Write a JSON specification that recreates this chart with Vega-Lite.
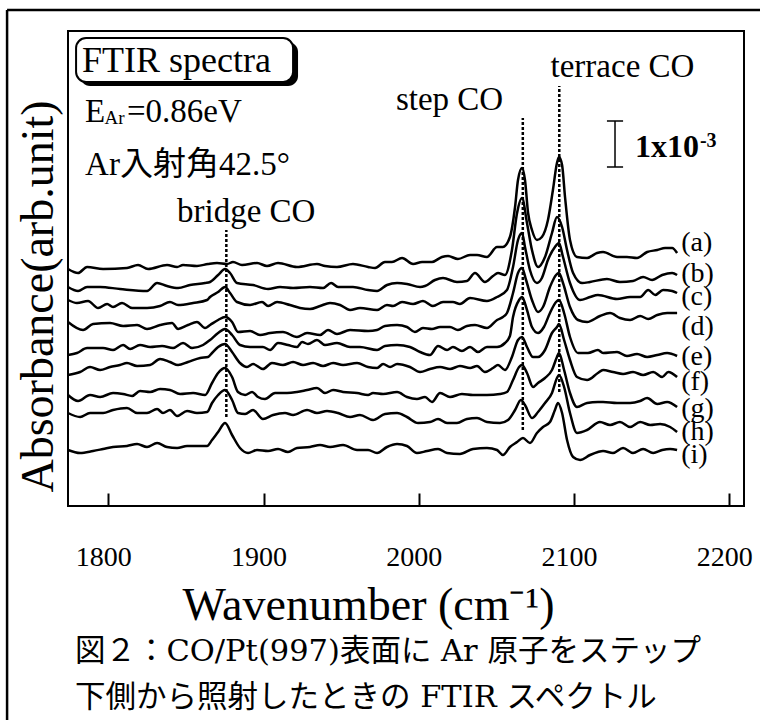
{
"$schema":"https://vega.github.io/schema/vega-lite/v6.json",
"width":676,"height":475,
"autosize":{"type":"none"},
"padding":{"left":68,"top":31,"right":16,"bottom":214},
"background":"white",
"config":{"view":{"stroke":"black","strokeWidth":2},"font":"Liberation Serif"},
"datasets":{
"spectra":[
{"spectrum":"a","wn":1774.0,"abs":237},{"spectrum":"a","wn":1780.5,"abs":233},{"spectrum":"a","wn":1786.3,"abs":239},{"spectrum":"a","wn":1796.6,"abs":237},{"spectrum":"a","wn":1812.0,"abs":238},{"spectrum":"a","wn":1819.1,"abs":241},{"spectrum":"a","wn":1825.6,"abs":237},{"spectrum":"a","wn":1837.8,"abs":241},{"spectrum":"a","wn":1844.3,"abs":239},{"spectrum":"a","wn":1848.1,"abs":241},{"spectrum":"a","wn":1857.1,"abs":240},{"spectrum":"a","wn":1864.2,"abs":242},{"spectrum":"a","wn":1870.0,"abs":243},{"spectrum":"a","wn":1876.5,"abs":242},{"spectrum":"a","wn":1880.3,"abs":244},{"spectrum":"a","wn":1886.1,"abs":241},{"spectrum":"a","wn":1895.8,"abs":243},{"spectrum":"a","wn":1902.2,"abs":240},{"spectrum":"a","wn":1909.3,"abs":243},{"spectrum":"a","wn":1921.5,"abs":239},{"spectrum":"a","wn":1934.4,"abs":242},{"spectrum":"a","wn":1939.6,"abs":240},{"spectrum":"a","wn":1947.3,"abs":239},{"spectrum":"a","wn":1957.6,"abs":242},{"spectrum":"a","wn":1967.3,"abs":239},{"spectrum":"a","wn":1971.8,"abs":238},{"spectrum":"a","wn":1978.2,"abs":244},{"spectrum":"a","wn":1982.7,"abs":244},{"spectrum":"a","wn":1989.2,"abs":248},{"spectrum":"a","wn":1996.3,"abs":242},{"spectrum":"a","wn":2002.1,"abs":244},{"spectrum":"a","wn":2008.5,"abs":244},{"spectrum":"a","wn":2014.9,"abs":249},{"spectrum":"a","wn":2018.8,"abs":250},{"spectrum":"a","wn":2025.2,"abs":247},{"spectrum":"a","wn":2033.0,"abs":251},{"spectrum":"a","wn":2037.5,"abs":251},{"spectrum":"a","wn":2043.9,"abs":249},{"spectrum":"a","wn":2050.4,"abs":259},{"spectrum":"a","wn":2054.2,"abs":259},{"spectrum":"a","wn":2058.7,"abs":269},{"spectrum":"a","wn":2062.0,"abs":299},{"spectrum":"a","wn":2063.9,"abs":326},{"spectrum":"a","wn":2066.5,"abs":338},{"spectrum":"a","wn":2068.4,"abs":326},{"spectrum":"a","wn":2070.4,"abs":293},{"spectrum":"a","wn":2072.9,"abs":276},{"spectrum":"a","wn":2076.1,"abs":266},{"spectrum":"a","wn":2079.3,"abs":269},{"spectrum":"a","wn":2083.2,"abs":286},{"spectrum":"a","wn":2086.4,"abs":316},{"spectrum":"a","wn":2089.0,"abs":343},{"spectrum":"a","wn":2090.3,"abs":349},{"spectrum":"a","wn":2092.3,"abs":341},{"spectrum":"a","wn":2094.2,"abs":309},{"spectrum":"a","wn":2097.4,"abs":266},{"spectrum":"a","wn":2101.9,"abs":249},{"spectrum":"a","wn":2108.4,"abs":248},{"spectrum":"a","wn":2114.8,"abs":253},{"spectrum":"a","wn":2118.7,"abs":254},{"spectrum":"a","wn":2127.7,"abs":249},{"spectrum":"a","wn":2134.1,"abs":249},{"spectrum":"a","wn":2140.6,"abs":248},{"spectrum":"a","wn":2147.1,"abs":254},{"spectrum":"a","wn":2153.6,"abs":256},{"spectrum":"a","wn":2158.7,"abs":258},{"spectrum":"a","wn":2163.2,"abs":258},{"spectrum":"a","wn":2166.4,"abs":253},
{"spectrum":"b","wn":1774.0,"abs":219},{"spectrum":"b","wn":1780.5,"abs":215},{"spectrum":"b","wn":1786.3,"abs":219},{"spectrum":"b","wn":1794.7,"abs":219},{"spectrum":"b","wn":1807.5,"abs":217},{"spectrum":"b","wn":1824.9,"abs":215},{"spectrum":"b","wn":1831.4,"abs":223},{"spectrum":"b","wn":1837.8,"abs":220},{"spectrum":"b","wn":1844.9,"abs":218},{"spectrum":"b","wn":1852.6,"abs":221},{"spectrum":"b","wn":1862.3,"abs":223},{"spectrum":"b","wn":1865.5,"abs":224},{"spectrum":"b","wn":1870.7,"abs":231},{"spectrum":"b","wn":1875.2,"abs":237},{"spectrum":"b","wn":1878.4,"abs":233},{"spectrum":"b","wn":1882.9,"abs":223},{"spectrum":"b","wn":1893.2,"abs":221},{"spectrum":"b","wn":1902.9,"abs":217},{"spectrum":"b","wn":1910.6,"abs":219},{"spectrum":"b","wn":1919.0,"abs":218},{"spectrum":"b","wn":1929.9,"abs":219},{"spectrum":"b","wn":1938.3,"abs":218},{"spectrum":"b","wn":1943.5,"abs":223},{"spectrum":"b","wn":1948.0,"abs":219},{"spectrum":"b","wn":1957.6,"abs":219},{"spectrum":"b","wn":1967.3,"abs":216},{"spectrum":"b","wn":1973.1,"abs":215},{"spectrum":"b","wn":1979.5,"abs":221},{"spectrum":"b","wn":1986.0,"abs":223},{"spectrum":"b","wn":1992.4,"abs":222},{"spectrum":"b","wn":2000.8,"abs":219},{"spectrum":"b","wn":2004.0,"abs":220},{"spectrum":"b","wn":2010.4,"abs":226},{"spectrum":"b","wn":2015.6,"abs":228},{"spectrum":"b","wn":2024.6,"abs":224},{"spectrum":"b","wn":2031.0,"abs":225},{"spectrum":"b","wn":2036.2,"abs":233},{"spectrum":"b","wn":2042.6,"abs":224},{"spectrum":"b","wn":2047.8,"abs":230},{"spectrum":"b","wn":2051.0,"abs":233},{"spectrum":"b","wn":2055.5,"abs":231},{"spectrum":"b","wn":2060.0,"abs":256},{"spectrum":"b","wn":2063.3,"abs":293},{"spectrum":"b","wn":2066.5,"abs":308},{"spectrum":"b","wn":2069.7,"abs":283},{"spectrum":"b","wn":2072.9,"abs":256},{"spectrum":"b","wn":2076.8,"abs":239},{"spectrum":"b","wn":2081.3,"abs":249},{"spectrum":"b","wn":2085.8,"abs":273},{"spectrum":"b","wn":2089.0,"abs":289},{"spectrum":"b","wn":2092.3,"abs":279},{"spectrum":"b","wn":2095.5,"abs":256},{"spectrum":"b","wn":2099.4,"abs":233},{"spectrum":"b","wn":2105.2,"abs":223},{"spectrum":"b","wn":2110.3,"abs":224},{"spectrum":"b","wn":2121.2,"abs":227},{"spectrum":"b","wn":2129.6,"abs":224},{"spectrum":"b","wn":2138.0,"abs":225},{"spectrum":"b","wn":2144.5,"abs":229},{"spectrum":"b","wn":2150.3,"abs":226},{"spectrum":"b","wn":2156.8,"abs":231},{"spectrum":"b","wn":2163.2,"abs":233},{"spectrum":"b","wn":2166.4,"abs":231},
{"spectrum":"c","wn":1774.0,"abs":206},{"spectrum":"c","wn":1779.8,"abs":203},{"spectrum":"c","wn":1786.9,"abs":205},{"spectrum":"c","wn":1793.4,"abs":198},{"spectrum":"c","wn":1799.2,"abs":202},{"spectrum":"c","wn":1803.0,"abs":199},{"spectrum":"c","wn":1808.8,"abs":203},{"spectrum":"c","wn":1815.3,"abs":198},{"spectrum":"c","wn":1824.9,"abs":198},{"spectrum":"c","wn":1833.3,"abs":200},{"spectrum":"c","wn":1839.7,"abs":204},{"spectrum":"c","wn":1844.9,"abs":201},{"spectrum":"c","wn":1854.6,"abs":203},{"spectrum":"c","wn":1863.6,"abs":206},{"spectrum":"c","wn":1865.5,"abs":209},{"spectrum":"c","wn":1870.7,"abs":214},{"spectrum":"c","wn":1875.2,"abs":219},{"spectrum":"c","wn":1878.4,"abs":213},{"spectrum":"c","wn":1882.9,"abs":204},{"spectrum":"c","wn":1891.3,"abs":201},{"spectrum":"c","wn":1899.0,"abs":204},{"spectrum":"c","wn":1902.9,"abs":200},{"spectrum":"c","wn":1908.7,"abs":204},{"spectrum":"c","wn":1917.0,"abs":201},{"spectrum":"c","wn":1923.5,"abs":198},{"spectrum":"c","wn":1929.9,"abs":197},{"spectrum":"c","wn":1936.4,"abs":200},{"spectrum":"c","wn":1942.8,"abs":203},{"spectrum":"c","wn":1949.3,"abs":201},{"spectrum":"c","wn":1955.7,"abs":196},{"spectrum":"c","wn":1962.1,"abs":198},{"spectrum":"c","wn":1973.1,"abs":196},{"spectrum":"c","wn":1979.5,"abs":201},{"spectrum":"c","wn":1983.4,"abs":200},{"spectrum":"c","wn":1989.2,"abs":204},{"spectrum":"c","wn":1996.3,"abs":202},{"spectrum":"c","wn":2002.7,"abs":205},{"spectrum":"c","wn":2009.1,"abs":200},{"spectrum":"c","wn":2015.6,"abs":204},{"spectrum":"c","wn":2022.0,"abs":204},{"spectrum":"c","wn":2026.5,"abs":202},{"spectrum":"c","wn":2033.0,"abs":208},{"spectrum":"c","wn":2043.9,"abs":205},{"spectrum":"c","wn":2050.4,"abs":209},{"spectrum":"c","wn":2056.8,"abs":216},{"spectrum":"c","wn":2060.7,"abs":239},{"spectrum":"c","wn":2063.9,"abs":266},{"spectrum":"c","wn":2066.5,"abs":273},{"spectrum":"c","wn":2068.4,"abs":259},{"spectrum":"c","wn":2071.6,"abs":236},{"spectrum":"c","wn":2076.1,"abs":223},{"spectrum":"c","wn":2079.3,"abs":228},{"spectrum":"c","wn":2083.2,"abs":246},{"spectrum":"c","wn":2087.7,"abs":259},{"spectrum":"c","wn":2090.3,"abs":263},{"spectrum":"c","wn":2092.9,"abs":249},{"spectrum":"c","wn":2097.4,"abs":223},{"spectrum":"c","wn":2103.9,"abs":206},{"spectrum":"c","wn":2110.3,"abs":209},{"spectrum":"c","wn":2115.4,"abs":211},{"spectrum":"c","wn":2127.7,"abs":207},{"spectrum":"c","wn":2136.1,"abs":209},{"spectrum":"c","wn":2142.6,"abs":209},{"spectrum":"c","wn":2147.8,"abs":216},{"spectrum":"c","wn":2152.3,"abs":211},{"spectrum":"c","wn":2157.4,"abs":216},{"spectrum":"c","wn":2163.2,"abs":215},{"spectrum":"c","wn":2166.4,"abs":213},
{"spectrum":"d","wn":1774.0,"abs":184},{"spectrum":"d","wn":1783.7,"abs":176},{"spectrum":"d","wn":1790.1,"abs":182},{"spectrum":"d","wn":1801.1,"abs":183},{"spectrum":"d","wn":1809.5,"abs":180},{"spectrum":"d","wn":1818.5,"abs":181},{"spectrum":"d","wn":1824.9,"abs":177},{"spectrum":"d","wn":1833.3,"abs":181},{"spectrum":"d","wn":1841.0,"abs":183},{"spectrum":"d","wn":1844.9,"abs":177},{"spectrum":"d","wn":1851.3,"abs":181},{"spectrum":"d","wn":1857.1,"abs":184},{"spectrum":"d","wn":1862.3,"abs":178},{"spectrum":"d","wn":1865.5,"abs":181},{"spectrum":"d","wn":1870.7,"abs":186},{"spectrum":"d","wn":1875.2,"abs":189},{"spectrum":"d","wn":1879.7,"abs":184},{"spectrum":"d","wn":1883.5,"abs":174},{"spectrum":"d","wn":1891.3,"abs":175},{"spectrum":"d","wn":1897.7,"abs":171},{"spectrum":"d","wn":1904.2,"abs":173},{"spectrum":"d","wn":1912.5,"abs":174},{"spectrum":"d","wn":1921.5,"abs":169},{"spectrum":"d","wn":1928.0,"abs":173},{"spectrum":"d","wn":1936.4,"abs":171},{"spectrum":"d","wn":1941.5,"abs":176},{"spectrum":"d","wn":1947.3,"abs":172},{"spectrum":"d","wn":1955.7,"abs":176},{"spectrum":"d","wn":1967.3,"abs":175},{"spectrum":"d","wn":1973.1,"abs":176},{"spectrum":"d","wn":1978.2,"abs":180},{"spectrum":"d","wn":1986.0,"abs":181},{"spectrum":"d","wn":1992.4,"abs":179},{"spectrum":"d","wn":1997.5,"abs":174},{"spectrum":"d","wn":2002.7,"abs":178},{"spectrum":"d","wn":2008.5,"abs":177},{"spectrum":"d","wn":2013.7,"abs":179},{"spectrum":"d","wn":2020.1,"abs":179},{"spectrum":"d","wn":2025.2,"abs":176},{"spectrum":"d","wn":2031.0,"abs":180},{"spectrum":"d","wn":2036.2,"abs":181},{"spectrum":"d","wn":2043.9,"abs":178},{"spectrum":"d","wn":2050.4,"abs":186},{"spectrum":"d","wn":2054.2,"abs":189},{"spectrum":"d","wn":2056.8,"abs":193},{"spectrum":"d","wn":2060.7,"abs":213},{"spectrum":"d","wn":2063.9,"abs":233},{"spectrum":"d","wn":2066.5,"abs":238},{"spectrum":"d","wn":2069.1,"abs":226},{"spectrum":"d","wn":2072.9,"abs":206},{"spectrum":"d","wn":2076.8,"abs":194},{"spectrum":"d","wn":2080.0,"abs":199},{"spectrum":"d","wn":2084.5,"abs":219},{"spectrum":"d","wn":2088.4,"abs":231},{"spectrum":"d","wn":2090.3,"abs":233},{"spectrum":"d","wn":2092.9,"abs":223},{"spectrum":"d","wn":2097.4,"abs":199},{"spectrum":"d","wn":2102.6,"abs":186},{"spectrum":"d","wn":2108.4,"abs":184},{"spectrum":"d","wn":2116.7,"abs":190},{"spectrum":"d","wn":2123.2,"abs":193},{"spectrum":"d","wn":2129.6,"abs":188},{"spectrum":"d","wn":2136.1,"abs":186},{"spectrum":"d","wn":2142.6,"abs":190},{"spectrum":"d","wn":2147.8,"abs":187},{"spectrum":"d","wn":2153.6,"abs":191},{"spectrum":"d","wn":2160.0,"abs":193},{"spectrum":"d","wn":2166.4,"abs":193},
{"spectrum":"e","wn":1774.0,"abs":151},{"spectrum":"e","wn":1779.8,"abs":153},{"spectrum":"e","wn":1786.3,"abs":158},{"spectrum":"e","wn":1796.6,"abs":158},{"spectrum":"e","wn":1803.0,"abs":156},{"spectrum":"e","wn":1809.5,"abs":161},{"spectrum":"e","wn":1814.0,"abs":157},{"spectrum":"e","wn":1820.4,"abs":161},{"spectrum":"e","wn":1826.9,"abs":159},{"spectrum":"e","wn":1834.6,"abs":160},{"spectrum":"e","wn":1841.7,"abs":158},{"spectrum":"e","wn":1848.1,"abs":163},{"spectrum":"e","wn":1853.9,"abs":158},{"spectrum":"e","wn":1861.0,"abs":161},{"spectrum":"e","wn":1865.5,"abs":166},{"spectrum":"e","wn":1870.7,"abs":173},{"spectrum":"e","wn":1875.2,"abs":177},{"spectrum":"e","wn":1879.7,"abs":171},{"spectrum":"e","wn":1884.8,"abs":161},{"spectrum":"e","wn":1891.3,"abs":159},{"spectrum":"e","wn":1899.6,"abs":159},{"spectrum":"e","wn":1904.2,"abs":156},{"spectrum":"e","wn":1909.3,"abs":163},{"spectrum":"e","wn":1915.7,"abs":161},{"spectrum":"e","wn":1921.5,"abs":159},{"spectrum":"e","wn":1924.8,"abs":164},{"spectrum":"e","wn":1928.6,"abs":162},{"spectrum":"e","wn":1934.4,"abs":166},{"spectrum":"e","wn":1939.6,"abs":161},{"spectrum":"e","wn":1947.3,"abs":163},{"spectrum":"e","wn":1955.7,"abs":159},{"spectrum":"e","wn":1962.1,"abs":159},{"spectrum":"e","wn":1973.1,"abs":156},{"spectrum":"e","wn":1978.2,"abs":160},{"spectrum":"e","wn":1986.0,"abs":161},{"spectrum":"e","wn":1994.3,"abs":159},{"spectrum":"e","wn":2000.8,"abs":154},{"spectrum":"e","wn":2007.2,"abs":151},{"spectrum":"e","wn":2012.4,"abs":160},{"spectrum":"e","wn":2018.2,"abs":156},{"spectrum":"e","wn":2022.0,"abs":159},{"spectrum":"e","wn":2027.8,"abs":155},{"spectrum":"e","wn":2033.0,"abs":159},{"spectrum":"e","wn":2038.1,"abs":154},{"spectrum":"e","wn":2043.9,"abs":159},{"spectrum":"e","wn":2050.4,"abs":159},{"spectrum":"e","wn":2055.5,"abs":163},{"spectrum":"e","wn":2058.7,"abs":170},{"spectrum":"e","wn":2060.7,"abs":189},{"spectrum":"e","wn":2064.6,"abs":206},{"spectrum":"e","wn":2066.5,"abs":209},{"spectrum":"e","wn":2069.7,"abs":196},{"spectrum":"e","wn":2072.9,"abs":179},{"spectrum":"e","wn":2076.8,"abs":173},{"spectrum":"e","wn":2080.6,"abs":179},{"spectrum":"e","wn":2084.5,"abs":193},{"spectrum":"e","wn":2088.4,"abs":204},{"spectrum":"e","wn":2090.3,"abs":206},{"spectrum":"e","wn":2093.6,"abs":193},{"spectrum":"e","wn":2097.4,"abs":169},{"spectrum":"e","wn":2102.6,"abs":153},{"spectrum":"e","wn":2109.0,"abs":153},{"spectrum":"e","wn":2115.4,"abs":156},{"spectrum":"e","wn":2118.7,"abs":153},{"spectrum":"e","wn":2127.7,"abs":154},{"spectrum":"e","wn":2134.1,"abs":150},{"spectrum":"e","wn":2140.6,"abs":152},{"spectrum":"e","wn":2147.1,"abs":149},{"spectrum":"e","wn":2153.6,"abs":151},{"spectrum":"e","wn":2160.0,"abs":153},{"spectrum":"e","wn":2166.4,"abs":150},
{"spectrum":"f","wn":1774.0,"abs":131},{"spectrum":"f","wn":1781.8,"abs":134},{"spectrum":"f","wn":1788.2,"abs":139},{"spectrum":"f","wn":1794.7,"abs":136},{"spectrum":"f","wn":1801.1,"abs":139},{"spectrum":"f","wn":1807.5,"abs":141},{"spectrum":"f","wn":1812.0,"abs":143},{"spectrum":"f","wn":1818.5,"abs":140},{"spectrum":"f","wn":1826.9,"abs":141},{"spectrum":"f","wn":1833.3,"abs":147},{"spectrum":"f","wn":1839.7,"abs":144},{"spectrum":"f","wn":1844.9,"abs":141},{"spectrum":"f","wn":1851.3,"abs":144},{"spectrum":"f","wn":1859.1,"abs":148},{"spectrum":"f","wn":1864.2,"abs":149},{"spectrum":"f","wn":1866.8,"abs":153},{"spectrum":"f","wn":1870.7,"abs":159},{"spectrum":"f","wn":1875.2,"abs":162},{"spectrum":"f","wn":1879.7,"abs":154},{"spectrum":"f","wn":1884.8,"abs":143},{"spectrum":"f","wn":1889.3,"abs":139},{"spectrum":"f","wn":1893.2,"abs":142},{"spectrum":"f","wn":1899.6,"abs":137},{"spectrum":"f","wn":1905.4,"abs":143},{"spectrum":"f","wn":1912.5,"abs":141},{"spectrum":"f","wn":1919.0,"abs":144},{"spectrum":"f","wn":1925.4,"abs":141},{"spectrum":"f","wn":1931.9,"abs":143},{"spectrum":"f","wn":1938.3,"abs":140},{"spectrum":"f","wn":1944.8,"abs":143},{"spectrum":"f","wn":1951.2,"abs":141},{"spectrum":"f","wn":1960.2,"abs":143},{"spectrum":"f","wn":1967.3,"abs":139},{"spectrum":"f","wn":1973.1,"abs":138},{"spectrum":"f","wn":1977.0,"abs":142},{"spectrum":"f","wn":1981.5,"abs":139},{"spectrum":"f","wn":1986.0,"abs":142},{"spectrum":"f","wn":1994.3,"abs":139},{"spectrum":"f","wn":2000.8,"abs":134},{"spectrum":"f","wn":2007.2,"abs":137},{"spectrum":"f","wn":2013.7,"abs":139},{"spectrum":"f","wn":2020.1,"abs":137},{"spectrum":"f","wn":2026.5,"abs":140},{"spectrum":"f","wn":2033.0,"abs":138},{"spectrum":"f","wn":2037.5,"abs":140},{"spectrum":"f","wn":2042.6,"abs":134},{"spectrum":"f","wn":2047.8,"abs":138},{"spectrum":"f","wn":2051.0,"abs":141},{"spectrum":"f","wn":2055.5,"abs":136},{"spectrum":"f","wn":2060.0,"abs":149},{"spectrum":"f","wn":2063.9,"abs":166},{"spectrum":"f","wn":2066.5,"abs":169},{"spectrum":"f","wn":2069.7,"abs":159},{"spectrum":"f","wn":2073.6,"abs":149},{"spectrum":"f","wn":2076.8,"abs":149},{"spectrum":"f","wn":2081.3,"abs":156},{"spectrum":"f","wn":2085.8,"abs":173},{"spectrum":"f","wn":2089.0,"abs":179},{"spectrum":"f","wn":2090.3,"abs":182},{"spectrum":"f","wn":2093.6,"abs":166},{"spectrum":"f","wn":2097.4,"abs":146},{"spectrum":"f","wn":2101.9,"abs":129},{"spectrum":"f","wn":2108.4,"abs":126},{"spectrum":"f","wn":2115.4,"abs":133},{"spectrum":"f","wn":2118.7,"abs":136},{"spectrum":"f","wn":2125.1,"abs":134},{"spectrum":"f","wn":2131.6,"abs":132},{"spectrum":"f","wn":2138.0,"abs":134},{"spectrum":"f","wn":2144.5,"abs":131},{"spectrum":"f","wn":2151.0,"abs":134},{"spectrum":"f","wn":2156.8,"abs":129},{"spectrum":"f","wn":2160.7,"abs":134},{"spectrum":"f","wn":2166.4,"abs":129},
{"spectrum":"g","wn":1774.0,"abs":111},{"spectrum":"g","wn":1780.5,"abs":105},{"spectrum":"g","wn":1788.2,"abs":111},{"spectrum":"g","wn":1794.7,"abs":109},{"spectrum":"g","wn":1803.0,"abs":113},{"spectrum":"g","wn":1809.5,"abs":112},{"spectrum":"g","wn":1815.3,"abs":110},{"spectrum":"g","wn":1820.4,"abs":115},{"spectrum":"g","wn":1826.9,"abs":114},{"spectrum":"g","wn":1833.3,"abs":117},{"spectrum":"g","wn":1839.7,"abs":116},{"spectrum":"g","wn":1846.2,"abs":112},{"spectrum":"g","wn":1854.6,"abs":113},{"spectrum":"g","wn":1862.3,"abs":111},{"spectrum":"g","wn":1866.8,"abs":123},{"spectrum":"g","wn":1870.7,"abs":133},{"spectrum":"g","wn":1875.2,"abs":138},{"spectrum":"g","wn":1879.7,"abs":129},{"spectrum":"g","wn":1883.5,"abs":114},{"spectrum":"g","wn":1888.1,"abs":111},{"spectrum":"g","wn":1892.6,"abs":114},{"spectrum":"g","wn":1896.4,"abs":109},{"spectrum":"g","wn":1900.9,"abs":107},{"spectrum":"g","wn":1907.4,"abs":113},{"spectrum":"g","wn":1915.1,"abs":113},{"spectrum":"g","wn":1921.5,"abs":114},{"spectrum":"g","wn":1928.0,"abs":116},{"spectrum":"g","wn":1934.4,"abs":118},{"spectrum":"g","wn":1939.6,"abs":113},{"spectrum":"g","wn":1944.8,"abs":116},{"spectrum":"g","wn":1951.2,"abs":114},{"spectrum":"g","wn":1960.2,"abs":113},{"spectrum":"g","wn":1967.3,"abs":111},{"spectrum":"g","wn":1970.5,"abs":113},{"spectrum":"g","wn":1977.0,"abs":112},{"spectrum":"g","wn":1986.0,"abs":114},{"spectrum":"g","wn":1992.4,"abs":109},{"spectrum":"g","wn":1998.8,"abs":107},{"spectrum":"g","wn":2004.0,"abs":109},{"spectrum":"g","wn":2008.5,"abs":104},{"spectrum":"g","wn":2013.7,"abs":113},{"spectrum":"g","wn":2020.1,"abs":109},{"spectrum":"g","wn":2027.8,"abs":112},{"spectrum":"g","wn":2034.9,"abs":111},{"spectrum":"g","wn":2043.9,"abs":111},{"spectrum":"g","wn":2052.3,"abs":112},{"spectrum":"g","wn":2056.8,"abs":114},{"spectrum":"g","wn":2060.7,"abs":126},{"spectrum":"g","wn":2064.6,"abs":139},{"spectrum":"g","wn":2066.5,"abs":141},{"spectrum":"g","wn":2069.7,"abs":133},{"spectrum":"g","wn":2073.6,"abs":119},{"spectrum":"g","wn":2076.8,"abs":123},{"spectrum":"g","wn":2081.3,"abs":128},{"spectrum":"g","wn":2085.8,"abs":136},{"spectrum":"g","wn":2089.0,"abs":149},{"spectrum":"g","wn":2090.3,"abs":153},{"spectrum":"g","wn":2093.6,"abs":136},{"spectrum":"g","wn":2097.4,"abs":113},{"spectrum":"g","wn":2101.9,"abs":99},{"spectrum":"g","wn":2108.4,"abs":103},{"spectrum":"g","wn":2115.4,"abs":104},{"spectrum":"g","wn":2118.7,"abs":104},{"spectrum":"g","wn":2127.7,"abs":103},{"spectrum":"g","wn":2136.1,"abs":103},{"spectrum":"g","wn":2142.6,"abs":105},{"spectrum":"g","wn":2147.1,"abs":108},{"spectrum":"g","wn":2153.6,"abs":102},{"spectrum":"g","wn":2160.0,"abs":104},{"spectrum":"g","wn":2166.4,"abs":99},
{"spectrum":"h","wn":1774.0,"abs":93},{"spectrum":"h","wn":1781.8,"abs":89},{"spectrum":"h","wn":1788.2,"abs":93},{"spectrum":"h","wn":1796.6,"abs":93},{"spectrum":"h","wn":1803.0,"abs":96},{"spectrum":"h","wn":1812.0,"abs":98},{"spectrum":"h","wn":1818.5,"abs":93},{"spectrum":"h","wn":1824.9,"abs":93},{"spectrum":"h","wn":1831.4,"abs":97},{"spectrum":"h","wn":1835.2,"abs":93},{"spectrum":"h","wn":1839.7,"abs":96},{"spectrum":"h","wn":1844.3,"abs":90},{"spectrum":"h","wn":1850.7,"abs":95},{"spectrum":"h","wn":1857.1,"abs":93},{"spectrum":"h","wn":1863.6,"abs":94},{"spectrum":"h","wn":1866.8,"abs":103},{"spectrum":"h","wn":1870.7,"abs":111},{"spectrum":"h","wn":1875.2,"abs":116},{"spectrum":"h","wn":1879.7,"abs":106},{"spectrum":"h","wn":1883.5,"abs":93},{"spectrum":"h","wn":1888.1,"abs":92},{"spectrum":"h","wn":1893.2,"abs":96},{"spectrum":"h","wn":1899.6,"abs":87},{"spectrum":"h","wn":1906.1,"abs":91},{"spectrum":"h","wn":1913.8,"abs":93},{"spectrum":"h","wn":1919.0,"abs":91},{"spectrum":"h","wn":1928.0,"abs":96},{"spectrum":"h","wn":1934.4,"abs":93},{"spectrum":"h","wn":1940.9,"abs":95},{"spectrum":"h","wn":1948.0,"abs":93},{"spectrum":"h","wn":1955.7,"abs":89},{"spectrum":"h","wn":1962.1,"abs":91},{"spectrum":"h","wn":1970.5,"abs":86},{"spectrum":"h","wn":1978.2,"abs":92},{"spectrum":"h","wn":1986.0,"abs":93},{"spectrum":"h","wn":1992.4,"abs":89},{"spectrum":"h","wn":1999.5,"abs":83},{"spectrum":"h","wn":2007.2,"abs":84},{"spectrum":"h","wn":2012.4,"abs":87},{"spectrum":"h","wn":2018.2,"abs":83},{"spectrum":"h","wn":2024.6,"abs":83},{"spectrum":"h","wn":2031.0,"abs":87},{"spectrum":"h","wn":2037.5,"abs":88},{"spectrum":"h","wn":2043.9,"abs":84},{"spectrum":"h","wn":2052.3,"abs":83},{"spectrum":"h","wn":2057.5,"abs":86},{"spectrum":"h","wn":2062.0,"abs":96},{"spectrum":"h","wn":2065.8,"abs":106},{"spectrum":"h","wn":2068.4,"abs":101},{"spectrum":"h","wn":2072.9,"abs":88},{"spectrum":"h","wn":2076.8,"abs":94},{"spectrum":"h","wn":2081.3,"abs":103},{"spectrum":"h","wn":2085.8,"abs":113},{"spectrum":"h","wn":2089.0,"abs":128},{"spectrum":"h","wn":2090.3,"abs":131},{"spectrum":"h","wn":2093.6,"abs":119},{"spectrum":"h","wn":2097.4,"abs":93},{"spectrum":"h","wn":2101.9,"abs":73},{"spectrum":"h","wn":2108.4,"abs":76},{"spectrum":"h","wn":2116.7,"abs":84},{"spectrum":"h","wn":2123.2,"abs":81},{"spectrum":"h","wn":2129.6,"abs":84},{"spectrum":"h","wn":2136.1,"abs":79},{"spectrum":"h","wn":2142.6,"abs":84},{"spectrum":"h","wn":2149.1,"abs":81},{"spectrum":"h","wn":2155.5,"abs":82},{"spectrum":"h","wn":2161.9,"abs":79},{"spectrum":"h","wn":2166.4,"abs":74},
{"spectrum":"i","wn":1774.0,"abs":56},{"spectrum":"i","wn":1781.8,"abs":53},{"spectrum":"i","wn":1790.1,"abs":55},{"spectrum":"i","wn":1796.6,"abs":57},{"spectrum":"i","wn":1803.0,"abs":59},{"spectrum":"i","wn":1812.0,"abs":60},{"spectrum":"i","wn":1818.5,"abs":62},{"spectrum":"i","wn":1824.9,"abs":59},{"spectrum":"i","wn":1831.4,"abs":63},{"spectrum":"i","wn":1837.8,"abs":59},{"spectrum":"i","wn":1844.3,"abs":58},{"spectrum":"i","wn":1850.7,"abs":60},{"spectrum":"i","wn":1857.1,"abs":60},{"spectrum":"i","wn":1863.6,"abs":60},{"spectrum":"i","wn":1866.8,"abs":66},{"spectrum":"i","wn":1870.7,"abs":74},{"spectrum":"i","wn":1875.2,"abs":83},{"spectrum":"i","wn":1879.7,"abs":71},{"spectrum":"i","wn":1884.8,"abs":58},{"spectrum":"i","wn":1890.0,"abs":53},{"spectrum":"i","wn":1895.8,"abs":56},{"spectrum":"i","wn":1902.9,"abs":55},{"spectrum":"i","wn":1909.3,"abs":57},{"spectrum":"i","wn":1915.7,"abs":54},{"spectrum":"i","wn":1921.5,"abs":58},{"spectrum":"i","wn":1929.9,"abs":59},{"spectrum":"i","wn":1936.4,"abs":61},{"spectrum":"i","wn":1942.8,"abs":59},{"spectrum":"i","wn":1951.2,"abs":61},{"spectrum":"i","wn":1960.2,"abs":56},{"spectrum":"i","wn":1967.3,"abs":56},{"spectrum":"i","wn":1973.1,"abs":53},{"spectrum":"i","wn":1979.5,"abs":59},{"spectrum":"i","wn":1986.0,"abs":62},{"spectrum":"i","wn":1992.4,"abs":60},{"spectrum":"i","wn":1998.8,"abs":53},{"spectrum":"i","wn":2005.3,"abs":55},{"spectrum":"i","wn":2012.4,"abs":57},{"spectrum":"i","wn":2018.2,"abs":53},{"spectrum":"i","wn":2026.5,"abs":52},{"spectrum":"i","wn":2034.9,"abs":57},{"spectrum":"i","wn":2043.9,"abs":58},{"spectrum":"i","wn":2050.4,"abs":56},{"spectrum":"i","wn":2054.2,"abs":51},{"spectrum":"i","wn":2058.7,"abs":59},{"spectrum":"i","wn":2063.3,"abs":64},{"spectrum":"i","wn":2067.1,"abs":68},{"spectrum":"i","wn":2071.6,"abs":63},{"spectrum":"i","wn":2076.1,"abs":73},{"spectrum":"i","wn":2080.0,"abs":79},{"spectrum":"i","wn":2084.5,"abs":84},{"spectrum":"i","wn":2087.7,"abs":96},{"spectrum":"i","wn":2089.7,"abs":103},{"spectrum":"i","wn":2092.3,"abs":93},{"spectrum":"i","wn":2095.5,"abs":66},{"spectrum":"i","wn":2099.4,"abs":49},{"spectrum":"i","wn":2103.9,"abs":46},{"spectrum":"i","wn":2110.3,"abs":51},{"spectrum":"i","wn":2115.4,"abs":54},{"spectrum":"i","wn":2118.7,"abs":55},{"spectrum":"i","wn":2125.1,"abs":53},{"spectrum":"i","wn":2131.6,"abs":58},{"spectrum":"i","wn":2138.0,"abs":53},{"spectrum":"i","wn":2144.5,"abs":57},{"spectrum":"i","wn":2151.0,"abs":53},{"spectrum":"i","wn":2156.8,"abs":56},{"spectrum":"i","wn":2161.9,"abs":57},{"spectrum":"i","wn":2166.4,"abs":56}
],
"peaks":[{"peak":"bridge CO","wn":1876,"abs":89,"abs2":276},{"peak":"step CO","wn":2067,"abs":76,"abs2":388},{"peak":"terrace CO","wn":2090.5,"abs":114,"abs2":420}],
"peakLabels":[{"text":"bridge CO","wn":1888.8,"abs":284},{"text":"step CO","wn":2019.8,"abs":396},{"text":"terrace CO","wn":2131.2,"abs":429}],
"scaleBar":[{"part":"bar","wn":2126.4,"wn2":2126.4,"abs":339,"abs2":385},{"part":"top","wn":2121.2,"wn2":2131.6,"abs":385,"abs2":385},{"part":"bottom","wn":2121.2,"wn2":2131.6,"abs":339,"abs2":339}],
"frame":[{"edge":"left","wn":1734.75,"wn2":1734.75,"abs":496,"abs2":-230},{"edge":"top","wn":1734.75,"wn2":2250,"abs":496,"abs2":496}],
"notes":[{"text":"E","wn":1785.0,"abs":384},{"text":"=0.86eV","wn":1812.0,"abs":384},{"text":"Ar入射角42.5°","wn":1785.0,"abs":331}],
"caption":[{"line":1,"text":"図２：CO/Pt(997)表面に Ar 原子をステップ","wn":1778.5,"abs":-155},{"line":2,"text":"下側から照射したときの FTIR スペクトル","wn":1778.5,"abs":-201}],
"labels":[{"spectrum":"a","text":"(a)","wn":2169,"abs":263},{"spectrum":"b","text":"(b)","wn":2169,"abs":232},{"spectrum":"c","text":"(c)","wn":2169,"abs":209},{"spectrum":"d","text":"(d)","wn":2169,"abs":179},{"spectrum":"e","text":"(e)","wn":2169,"abs":149},{"spectrum":"f","text":"(f)","wn":2169,"abs":124},{"spectrum":"g","text":"(g)","wn":2169,"abs":97},{"spectrum":"h","text":"(h)","wn":2169,"abs":74},{"spectrum":"i","text":"(i)","wn":2169,"abs":51}]
},
"layer":[
{"data":{"name":"spectra"},"mark":{"type":"line","color":"black","strokeWidth":2.5,"interpolate":"monotone"},
 "encoding":{
  "x":{"field":"wn","type":"quantitative","scale":{"domain":[1774,2209.5],"nice":false,"zero":false},
   "axis":{"title":"Wavenumber (cm⁻¹)","values":[1800,1900,2000,2100,2200],"format":"d","grid":false,"domain":false,"ticks":true,"tickSize":-13,"tickWidth":2,"tickColor":"black","labelFont":"Liberation Serif","labelFontSize":28,"labelColor":"black","labelPadding":50,"labelOffset":-5,"labelFlush":false,"labelOverlap":false,"titleFont":"Liberation Serif","titleFontSize":46,"titleFontWeight":"normal","titleColor":"black","titleX":300,"titleY":113,"titleBaseline":"alphabetic","titleAlign":"center"}},
  "y":{"field":"abs","type":"quantitative","scale":{"domain":[0,475],"nice":false,"zero":false},
   "axis":{"title":"Absorbance(arb.unit)","ticks":false,"labels":false,"domain":false,"grid":false,"titleFont":"Liberation Serif","titleFontSize":46,"titleFontWeight":"normal","titleColor":"black","titleX":-30,"titleY":265,"titleAngle":270,"titleBaseline":"middle","titleAlign":"center"}},
  "detail":{"field":"spectrum","type":"nominal"}}},
{"data":{"name":"peaks"},"mark":{"type":"rule","color":"black","strokeWidth":2.5,"strokeDash":[3,2]},
 "encoding":{"x":{"field":"wn","type":"quantitative"},"y":{"field":"abs","type":"quantitative"},"y2":{"field":"abs2"}}},
{"data":{"name":"scaleBar"},"mark":{"type":"rule","color":"black","strokeWidth":1.5},
 "encoding":{"x":{"field":"wn","type":"quantitative"},"x2":{"field":"wn2"},"y":{"field":"abs","type":"quantitative"},"y2":{"field":"abs2"}}},
{"data":{"name":"frame"},"mark":{"type":"rule","color":"black","strokeWidth":2.5},
 "encoding":{"x":{"field":"wn","type":"quantitative"},"x2":{"field":"wn2"},"y":{"field":"abs","type":"quantitative"},"y2":{"field":"abs2"}}},
{"data":{"values":[{"box":"shadow"}]},"mark":{"type":"rect","color":"black","cornerRadius":10},
 "encoding":{"x":{"datum":1781.8,"type":"quantitative"},"x2":{"datum":1922.2},"y":{"datum":464,"type":"quantitative"},"y2":{"datum":420}}},
{"data":{"values":[{"box":"frame"}]},"mark":{"type":"rect","fill":"white","stroke":"black","strokeWidth":2,"cornerRadius":10},
 "encoding":{"x":{"datum":1779.2,"type":"quantitative"},"x2":{"datum":1919.0},"y":{"datum":468,"type":"quantitative"},"y2":{"datum":424}}},
{"data":{"values":[{"text":"FTIR spectra"}]},"mark":{"type":"text","font":"Liberation Serif","fontSize":36,"align":"left","baseline":"alphabetic","color":"black"},
 "encoding":{"x":{"datum":1783.0,"type":"quantitative"},"y":{"datum":434,"type":"quantitative"},"text":{"field":"text"}}},
{"data":{"name":"notes"},"mark":{"type":"text","font":"'Liberation Serif','Noto Sans CJK JP'","fontSize":33,"align":"left","baseline":"alphabetic","color":"black"},
 "encoding":{"x":{"field":"wn","type":"quantitative"},"y":{"field":"abs","type":"quantitative"},"text":{"field":"text"}}},
{"data":{"values":[{"text":"Ar"}]},"mark":{"type":"text","font":"Liberation Serif","fontSize":19,"align":"left","baseline":"alphabetic","color":"black"},
 "encoding":{"x":{"datum":1797.5,"type":"quantitative"},"y":{"datum":382,"type":"quantitative"},"text":{"field":"text"}}},
{"data":{"name":"peakLabels"},"mark":{"type":"text","font":"Liberation Serif","fontSize":33,"align":"center","baseline":"alphabetic","color":"black"},
 "encoding":{"x":{"field":"wn","type":"quantitative"},"y":{"field":"abs","type":"quantitative"},"text":{"field":"text"}}},
{"data":{"values":[{"text":"1x10"}]},"mark":{"type":"text","font":"Liberation Serif","fontSize":32,"fontWeight":"bold","align":"left","baseline":"alphabetic","color":"black"},
 "encoding":{"x":{"datum":2139.3,"type":"quantitative"},"y":{"datum":349,"type":"quantitative"},"text":{"field":"text"}}},
{"data":{"values":[{"text":"-3"}]},"mark":{"type":"text","font":"Liberation Serif","fontSize":20,"fontWeight":"bold","align":"left","baseline":"alphabetic","color":"black"},
 "encoding":{"x":{"datum":2181.1,"type":"quantitative"},"y":{"datum":359,"type":"quantitative"},"text":{"field":"text"}}},
{"data":{"name":"labels"},"mark":{"type":"text","font":"Liberation Serif","fontSize":28,"align":"left","baseline":"middle","color":"black"},
 "encoding":{"x":{"field":"wn","type":"quantitative"},"y":{"field":"abs","type":"quantitative"},"text":{"field":"text"}}},
{"data":{"name":"caption"},"mark":{"type":"text","font":"'DejaVu Serif','Noto Sans CJK JP'","fontSize":30.5,"align":"left","baseline":"alphabetic","color":"black"},
 "encoding":{"x":{"field":"wn","type":"quantitative"},"y":{"field":"abs","type":"quantitative"},"text":{"field":"text"}}}
]
}
